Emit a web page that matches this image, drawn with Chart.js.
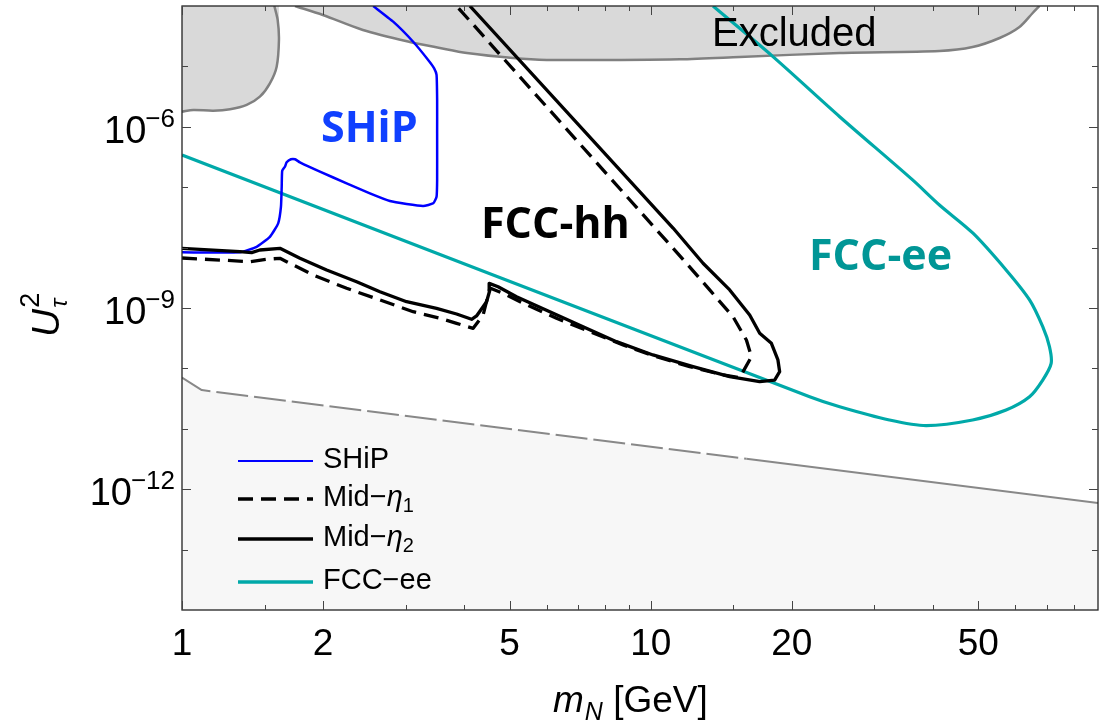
<!DOCTYPE html>
<html>
<head>
<meta charset="utf-8">
<script src="https://cdn.jsdelivr.net/npm/chart.js@4.4.1/dist/chart.umd.min.js"></script>
<style>
  html, body { margin: 0; padding: 0; background: #fff; }
  #wrap { width: 1109px; height: 727px; position: relative; }
</style>
</head>
<body>
<div id="wrap"><canvas id="chart"></canvas></div>
<script>
// --- Data (m_N in GeV, U_tau^2) ---
const excludedLeftM = [1.0, 1.057, 1.166, 1.266, 1.374, 1.466, 1.540, 1.592, 1.610, 1.600, 1.574];
const excludedLeftU = [1.78e-6, 1.90e-6, 1.85e-6, 1.95e-6, 2.30e-6, 3.15e-6, 5.25e-6, 9.9e-6, 2.74e-5, 5.86e-5, 1e-4];

const excludedTopM = [1.742, 1.998, 2.432, 3.063, 3.549, 4.053, 5.079, 6.003, 8.30, 11.53, 15.48, 25.3, 41.3, 48.6, 55.5, 61.2, 65.3, 67.5];
const excludedTopU = [1e-4, 7.09e-5, 4.01e-5, 2.54e-5, 2.02e-5, 1.67e-5, 1.38e-5, 1.28e-5, 1.28e-5, 1.31e-5, 1.43e-5, 1.67e-5, 1.80e-5, 2.09e-5, 2.95e-5, 4.49e-5, 7.66e-5, 1e-4];

const shipM = [1.0, 1.329, 1.443, 1.540, 1.604, 1.626, 1.632, 1.636, 1.658, 1.672, 1.708, 1.742, 1.785, 1.969, 2.245, 2.517, 2.777, 3.014, 3.270, 3.435, 3.492, 3.502, 3.502, 3.502, 3.492, 3.451, 3.351, 3.113, 2.822, 2.558];
const shipU = [8.36e-9, 8.36e-9, 1.03e-8, 1.51e-8, 2.52e-8, 4.75e-8, 1.02e-7, 1.87e-7, 2.18e-7, 2.58e-7, 2.90e-7, 2.90e-7, 2.58e-7, 1.81e-7, 1.16e-7, 7.93e-8, 5.91e-8, 5.27e-8, 4.89e-8, 5.41e-8, 6.97e-8, 1.32e-7, 7.80e-7, 2.78e-6, 7.21e-6, 9.31e-6, 1.28e-5, 2.56e-5, 5.50e-5, 1e-4];

const midEta1M = [1.0, 1.396, 1.515, 1.618, 1.672, 1.905, 2.245, 2.644, 3.113, 3.549, 3.853, 4.180, 4.390, 4.538, 4.843, 5.343, 6.294, 7.413, 8.730, 10.28, 12.11, 14.27, 15.48, 16.40, 16.00, 14.98, 13.36, 11.92, 3.853];
const midEta1U = [6.73e-9, 5.85e-9, 6.40e-9, 6.65e-9, 5.85e-9, 3.52e-9, 2.12e-9, 1.36e-9, 8.69e-10, 6.75e-10, 5.58e-10, 4.61e-10, 7.66e-10, 2.14e-9, 1.75e-9, 1.20e-9, 6.75e-10, 4.06e-10, 2.44e-10, 1.56e-10, 1.07e-10, 7.78e-11, 7.02e-11, 1.56e-10, 2.95e-10, 7.18e-10, 1.99e-9, 5.50e-9, 1e-4];

const midEta2M = [1.0, 1.329, 1.408, 1.466, 1.618, 1.785, 2.035, 2.358, 2.644, 3.014, 3.492, 3.853, 4.148, 4.250, 4.465, 4.538, 4.522, 4.725, 5.172, 6.091, 7.171, 8.451, 10.11, 12.31, 14.74, 17.08, 18.38, 18.84, 18.68, 18.09, 17.08, 16.26, 14.74, 12.93, 11.16, 4.113];
const midEta2U = [9.73e-9, 8.55e-9, 8.24e-9, 9.12e-9, 9.73e-9, 6.65e-9, 4.26e-9, 2.72e-9, 1.86e-9, 1.27e-9, 9.88e-10, 7.96e-10, 6.50e-10, 7.38e-10, 1.27e-9, 1.99e-9, 2.56e-9, 2.25e-9, 1.54e-9, 8.69e-10, 4.90e-10, 2.77e-10, 1.67e-10, 1.07e-10, 7.29e-11, 6.03e-11, 6.42e-11, 8.81e-11, 1.38e-10, 2.60e-10, 3.81e-10, 7.66e-10, 1.99e-9, 5.50e-9, 2.11e-8, 1e-4];

const fccEeM = [1.0, 21.83, 25.3, 32.3, 38.7, 48.6, 57.3, 64.3, 68.6, 71.5, 70.9, 68.6, 64.3, 57.3, 48.7, 41.3, 36.2, 25.3, 18.23, 13.58];
const fccEeU = [3.41e-7, 3.40e-11, 2.32e-11, 1.40e-11, 1.13e-11, 1.40e-11, 2.05e-11, 3.40e-11, 6.42e-11, 1.21e-10, 2.29e-10, 4.90e-10, 1.36e-9, 4.26e-9, 1.73e-8, 5.07e-8, 1.32e-7, 1.47e-6, 1.45e-5, 1e-4];

// lower bound line: dashed up to ~16 GeV, solid after
const seesawM = [1.0, 1.102, 16.0, 90];
const seesawU = [7.02e-11, 4.38e-11, 3.2e-12, 5.91e-13];

// axis ticks
const xMajorTicks = [1, 2, 5, 10, 20, 50];
const xMinorTicks = [1.5, 3, 4, 6, 7, 8, 9, 15, 30, 40, 60, 70, 80];
const yDecades = [-13, -12, -11, -10, -9, -8, -7, -6, -5];
const yLabelled = [-12, -9, -6];

const legendItems = [
    { name: 'SHiP', sub: null, color: '#0000ff', width: 2, dash: [] },
    { name: 'Mid\u2212', sub: '1', color: '#000', width: 3.5, dash: [15, 8] },
    { name: 'Mid\u2212', sub: '2', color: '#000', width: 3.5, dash: [] },
    { name: 'FCC\u2212ee', sub: null, color: '#00a9a9', width: 3.5, dash: [] }
];

const pts = (ms, us) => ms.map((m, i) => ({ x: m, y: us[i] }));

// filler needs x-monotone outlines: keep points up to the right-most one, then go straight to the top
function monotoneToTop(ms, us) {
    let k = 0;
    ms.forEach((m, i) => { if (m > ms[k]) k = i; });
    const out = pts(ms.slice(0, k + 1), us.slice(0, k + 1));
    out.push({ x: ms[k], y: 1e-4 });
    return out;
}

const SANS = '"Liberation Sans", Arial, sans-serif';
const BOLD = '"Open Sans", "Noto Sans", sans-serif';

// --- Plugins ---
const bgPlugin = {
    id: 'bg',
    beforeDraw(chart) {
        const ctx = chart.ctx;
        ctx.save();
        ctx.fillStyle = '#fff';
        ctx.fillRect(0, 0, chart.width, chart.height);
        ctx.restore();
    }
};

const decorPlugin = {
    id: 'decor',
    afterDraw(chart) {
        const { ctx, chartArea: a, scales: { x, y } } = chart;
        ctx.save();

        // frame
        ctx.strokeStyle = '#222';
        ctx.lineWidth = 1.3;
        ctx.strokeRect(a.left, a.top, a.right - a.left, a.bottom - a.top);

        // x ticks (inward, bottom and top)
        ctx.strokeStyle = '#444';
        ctx.lineWidth = 1;
        const xt = (v, len) => {
            const px = Math.round(x.getPixelForValue(v)) + 0.5;
            ctx.beginPath();
            ctx.moveTo(px, a.bottom); ctx.lineTo(px, a.bottom - len);
            ctx.moveTo(px, a.top); ctx.lineTo(px, a.top + len);
            ctx.stroke();
        };
        xMajorTicks.forEach(v => xt(v, 9));
        xMinorTicks.forEach(v => xt(v, 5));

        const yt = (v, len) => {
            const py = Math.round(y.getPixelForValue(v)) + 0.5;
            ctx.beginPath();
            ctx.moveTo(a.left, py); ctx.lineTo(a.left + len, py);
            ctx.moveTo(a.right, py); ctx.lineTo(a.right - len, py);
            ctx.stroke();
        };
        yDecades.forEach(e => yt(Math.pow(10, e), yLabelled.includes(e) ? 9 : 6));

        // x tick labels
        ctx.fillStyle = '#000';
        ctx.font = '37px ' + SANS;
        ctx.textAlign = 'center';
        ctx.textBaseline = 'alphabetic';
        xMajorTicks.forEach(v => ctx.fillText(String(v), x.getPixelForValue(v), a.bottom + 45));

        // y tick labels 10^-n
        yLabelled.forEach(e => {
            const py = y.getPixelForValue(Math.pow(10, e));
            const sup = '\u2212' + Math.abs(e);
            ctx.textAlign = 'right';
            ctx.font = '26px ' + SANS;
            const supW = ctx.measureText(sup).width;
            const right = a.left - 7;
            ctx.fillText(sup, right, py);
            ctx.font = '38px ' + SANS;
            ctx.fillText('10', right - supW + 1, py + 16);
        });

        // x axis title: m_N [GeV]
        ctx.textAlign = 'left';
        let tx = 553;
        ctx.font = 'italic 37px ' + SANS;
        ctx.fillText('m', tx, 712);
        tx += ctx.measureText('m').width + 1;
        ctx.font = 'italic 25px ' + SANS;
        ctx.fillText('N', tx, 720);
        tx += ctx.measureText('N').width;
        ctx.font = '37px ' + SANS;
        ctx.fillText(' [GeV]', tx, 712);

        // y axis title: U_tau^2 (rotated)
        ctx.save();
        ctx.translate(59, 337);
        ctx.rotate(-Math.PI / 2);
        ctx.font = 'italic 39px ' + SANS;
        ctx.fillText('U', 0, 0);
        const uw = ctx.measureText('U').width;
        ctx.font = 'italic 24px ' + SANS;
        ctx.fillText('\u03c4', uw + 1, 8);
        ctx.font = '27px ' + SANS;
        ctx.fillText('2', uw + 1, -20);
        ctx.restore();

        // annotations
        ctx.font = '40px ' + SANS;
        ctx.fillStyle = '#000';
        ctx.fillText('Excluded', 712, 46);
        ctx.font = 'bold 43px ' + BOLD;
        ctx.fillStyle = '#1040ff';
        ctx.fillText('SHiP', 321, 142);
        ctx.fillStyle = '#000';
        ctx.fillText('FCC-hh', 481, 238);
        ctx.fillStyle = '#009696';
        ctx.fillText('FCC-ee', 809, 270);

        // legend
        const lineY = [461, 499, 539, 582];
        legendItems.forEach((it, i) => {
            const ly = lineY[i];
            ctx.strokeStyle = it.color;
            ctx.lineWidth = it.width;
            ctx.setLineDash(it.dash);
            ctx.beginPath();
            ctx.moveTo(238, ly); ctx.lineTo(313, ly);
            ctx.stroke();
            ctx.setLineDash([]);
            ctx.fillStyle = '#000';
            ctx.font = '29px ' + SANS;
            let lx = 323;
            ctx.fillText(it.name, lx, ly + 7);
            if (it.sub) {
                lx += ctx.measureText(it.name).width;
                ctx.font = 'italic 29px ' + SANS;
                ctx.fillText('\u03b7', lx, ly + 7);
                lx += ctx.measureText('\u03b7').width;
                ctx.font = '20px ' + SANS;
                ctx.fillText(it.sub, lx, ly + 13);
            }
        });

        ctx.restore();
    }
};

// --- Chart ---
const line = (data, opts) => Object.assign({
    data: data, showLine: true, pointRadius: 0, pointHoverRadius: 0,
    fill: false, tension: 0, borderJoinStyle: 'round'
}, opts);

new Chart(document.getElementById('chart'), {
    type: 'line',
    data: {
        datasets: [
            // light region below the bottom line (fill only)
            line(pts(seesawM, seesawU), { label: 'seesaw-fill', borderWidth: 0, borderColor: 'rgba(0,0,0,0)', fill: 'start', backgroundColor: '#f7f7f7', order: 11 }),
            line(pts(seesawM, seesawU), {
                label: 'seesaw', borderColor: '#888', borderWidth: 2, order: 10,
                segment: { borderDash: c => (c.p0DataIndex >= 2 ? [] : [32, 6]) }
            }),
            // excluded regions
            line(monotoneToTop(excludedLeftM, excludedLeftU), { label: 'Excluded-fill', borderWidth: 0, borderColor: 'rgba(0,0,0,0)', fill: 'end', backgroundColor: '#d9d9d9', tension: 0.3, order: 9 }),
            line(pts(excludedLeftM, excludedLeftU), { label: 'Excluded', borderColor: '#808080', borderWidth: 2.5, tension: 0.3, order: 8 }),
            line(pts(excludedTopM, excludedTopU), { label: 'Excluded2', borderColor: '#808080', borderWidth: 2.5, fill: 'end', backgroundColor: '#d9d9d9', tension: 0.3, order: 7 }),
            line(pts(fccEeM, fccEeU), { label: 'FCC-ee', borderColor: '#00a9a9', borderWidth: 3.2, tension: 0.3, order: 4 }),
            line(pts(shipM, shipU), { label: 'SHiP', borderColor: '#0000ff', borderWidth: 2.5, tension: 0.15, order: 3 }),
            line(pts(midEta1M, midEta1U), { label: 'Mid-eta1', borderColor: '#000', borderWidth: 3.3, borderDash: [15, 8], order: 2 }),
            line(pts(midEta2M, midEta2U), { label: 'Mid-eta2', borderColor: '#000', borderWidth: 3.3, order: 1 })
        ]
    },
    options: {
        responsive: true,
        maintainAspectRatio: false,
        animation: false,
        layout: { padding: { left: 182, right: 11, top: 6, bottom: 117 } },
        plugins: { legend: { display: false }, tooltip: { enabled: false } },
        scales: {
            x: { type: 'logarithmic', min: 1, max: 90, display: false },
            y: { type: 'logarithmic', min: 1e-14, max: 1e-4, display: false }
        }
    },
    plugins: [bgPlugin, decorPlugin]
});
</script>
</body>
</html>
